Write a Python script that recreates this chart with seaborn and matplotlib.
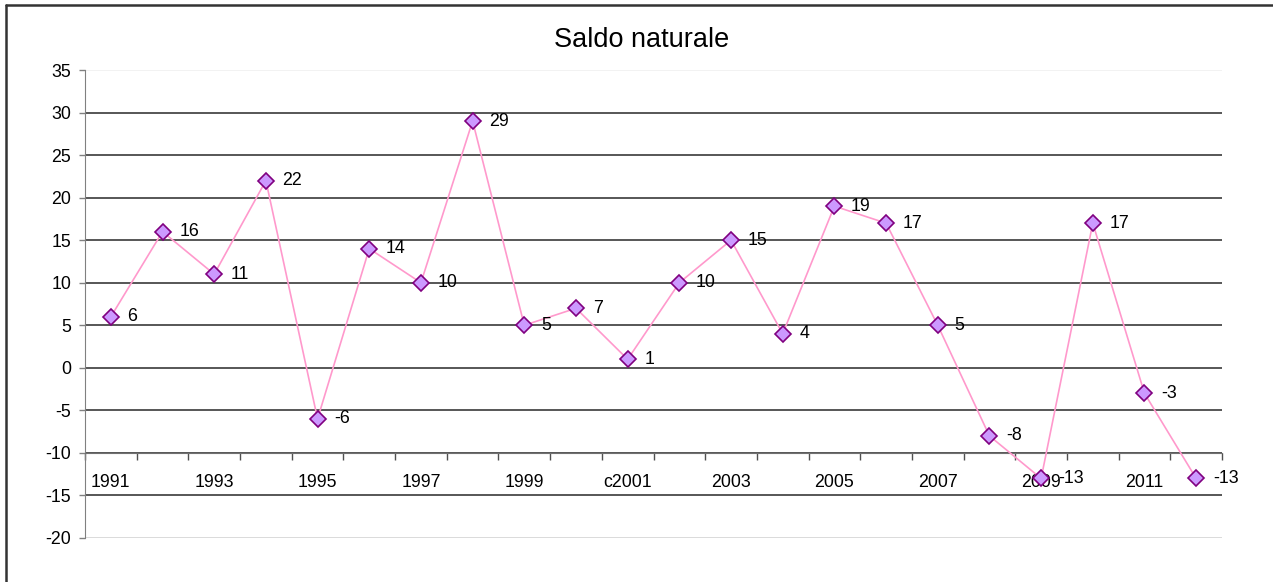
import pandas as pd
import matplotlib
matplotlib.use("Agg")
import matplotlib.pyplot as plt
import seaborn as sns
from matplotlib.lines import Line2D

years = ["1991", "1992", "1993", "1994", "1995", "1996", "1997", "1998", "1999", "2000",
         "c2001", "2002", "2003", "2004", "2005", "2006", "2007", "2008", "2009", "2010",
         "2011", "2012"]
saldo = [6, 16, 11, 22, -6, 14, 10, 29, 5, 7, 1, 10, 15, 4, 19, 17, 5, -8, -13, 17, -3, -13]
y_ticks = [35, 30, 25, 20, 15, 10, 5, 0, -5, -10, -15, -20]

sns.set_style("white")
plt.rcParams["font.family"] = ["Liberation Sans", "DejaVu Sans"]
plt.rcParams["axes.unicode_minus"] = False
plt.rcParams["text.color"] = "black"
plt.rcParams["xtick.color"] = "black"
plt.rcParams["ytick.color"] = "black"

df = pd.DataFrame({"pos": range(len(years)), "anno": years, "saldo": saldo})

fig = plt.figure(figsize=(12.73, 5.82), dpi=100)
ax = fig.add_axes([85 / 1273, 44 / 582, (1222 - 85) / 1273, 468 / 582])

# griglia orizzontale
for v in y_ticks:
    if v == 35:
        c = "#f0f0f0"
    elif v == -20:
        c = "#d4d4d4"
    else:
        c = "#3a3a3a"
    ax.axhline(v, color=c, lw=1.2, zorder=0)

sns.lineplot(data=df, x="pos", y="saldo", ax=ax, color="#ff99cc", lw=1.2,
             marker="D", markersize=8.5, markerfacecolor="#cc99ff",
             markeredgecolor="#800080", markeredgewidth=1.2, zorder=3)

for i, v in enumerate(saldo):
    ax.annotate(str(v), (i, v), xytext=(12, 0), textcoords="offset points",
                ha="left", va="center", fontsize=12.8, color="black", zorder=4)

ax.set_xlim(-0.5, len(years) - 0.5)
ax.set_ylim(-20, 35)
ax.set_yticks(y_ticks)
ax.tick_params(axis="y", left=True, length=4, width=1, color="#808080",
               labelsize=12.8, labelcolor="black", pad=6)

# asse delle categorie a -10
ax.spines["bottom"].set_position(("data", -10))
ax.spines["bottom"].set_color("#707070")
ax.spines["left"].set_color("#808080")
ax.spines["top"].set_visible(False)
ax.spines["right"].set_visible(False)
ax.set_xticks(list(range(0, len(years), 2)))
ax.set_xticklabels(years[::2])
ax.set_xticks([i - 0.5 for i in range(len(years) + 1)], minor=True)
ax.tick_params(axis="x", which="major", length=0, labelsize=12.8,
               labelcolor="black", pad=15)
ax.tick_params(axis="x", which="minor", bottom=True, length=5, width=1,
               color="#505050", direction="out")
ax.set_xlabel("")
ax.set_ylabel("")

fig.text(642 / 1273, 1 - 40 / 582, "Saldo naturale", ha="center", va="center",
         fontsize=19.5, color="black")

# cornice del grafico
fig.add_artist(Line2D([6 / 1273, 6 / 1273], [0, 1 - 5 / 582], transform=fig.transFigure,
                      color="#333333", lw=1.8))
fig.add_artist(Line2D([6 / 1273, 1], [1 - 5 / 582, 1 - 5 / 582], transform=fig.transFigure,
                      color="#333333", lw=1.8))

fig.savefig("out.png", dpi=100, facecolor="white")
